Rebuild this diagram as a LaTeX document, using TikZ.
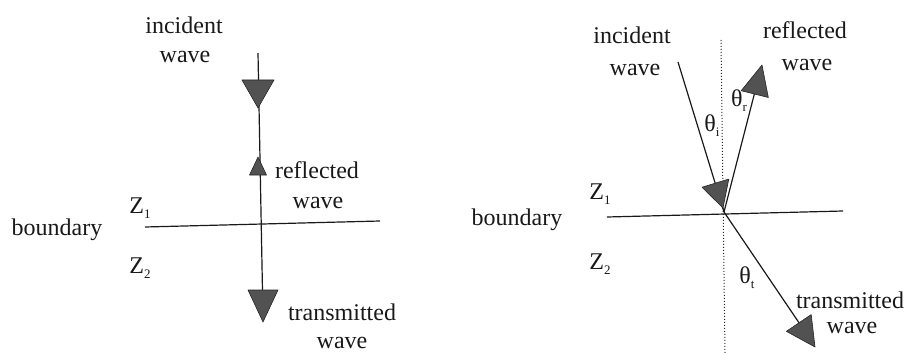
\documentclass[tikz,border=0pt]{standalone}
\usepackage{fontspec}
\setmainfont{Liberation Serif}
\begin{document}
\begin{tikzpicture}[x=1pt,y=-1pt,
  lbl/.style={inner sep=0pt,font=\fontsize{24}{28}\selectfont,text=black!90},
  wline/.style={line width=1.2pt,black!90},
  headfill/.style={fill=black!68,draw=black!85,line width=0.6pt,line join=round}]
\newcommand\arrowhd[4]{\filldraw[headfill,shift={(#1)},rotate=#2] (0,0) -- (-#3pt,#4pt) -- (-#3pt,-#4pt) -- cycle;}
\newcommand\sbs[1]{\raisebox{-0.45ex}{\fontsize{13}{13}\selectfont #1}}
\useasboundingbox (0,0) rectangle (916,353);
% ---------- left diagram ----------
\coordinate (Ltop) at (258,53);
\coordinate (Lbot) at (263,318);
\coordinate (LbL) at (145,227);
\coordinate (LbR) at (380,221);
\coordinate (Lh1) at (258,108);
\coordinate (Lh2) at (258,157);
\coordinate (Lh3) at (263,322);
\draw[wline] (Ltop) -- (Lbot);
\draw[wline] (LbL) -- (LbR);
\arrowhd{Lh1}{-90}{28}{16}
\arrowhd{Lh2}{90}{18}{8.5}
\arrowhd{Lh3}{-90}{32}{15}
\node[lbl] (Linc1) at (184,25) {incident};
\node[lbl] (Linc2) at (185,57) {wave};
\node[lbl] (Lref1) at (317,170) {reflected};
\node[lbl] (Lref2) at (318,203) {wave};
\node[lbl] (Ltra1) at (342,312) {transmitted};
\node[lbl] (Ltra2) at (342,343) {wave};
\node[lbl] (Lbnd) at (57,230) {boundary};
\node[lbl] (LZ1) at (140,208) {Z\sbs{1}};
\node[lbl] (LZ2) at (140,268) {Z\sbs{2}};
% ---------- right diagram ----------
\coordinate (O) at (724,212);
\coordinate (Ninc) at (678,62);
\coordinate (Nref) at (760,72);
\coordinate (Ntra) at (810,339);
\coordinate (DTop) at (721,40);
\coordinate (DBot) at (725,353);
\coordinate (RbL) at (607,217);
\coordinate (RbR) at (843,211);
\coordinate (Rh1) at (723,208);
\coordinate (Rh2) at (762,65);
\coordinate (Rh3) at (815,347);
\draw[black!85,line width=1pt,dotted] (DTop) -- (DBot);
\draw[wline] (RbL) -- (RbR);
\draw[wline] (Ninc) -- (O);
\draw[wline] (O) -- (Nref);
\draw[wline] (O) -- (Ntra);
\arrowhd{Rh1}{-73}{26}{14}
\arrowhd{Rh2}{76}{30}{14}
\arrowhd{Rh3}{-56}{29}{15}
\node[lbl] (Rinc1) at (632,35) {incident};
\node[lbl] (Rinc2) at (635,70) {wave};
\node[lbl] (Rref1) at (805,30) {reflected};
\node[lbl] (Rref2) at (807,65) {wave};
\node[lbl] (Rtra1) at (850,300) {transmitted};
\node[lbl] (Rtra2) at (852,328) {wave};
\node[lbl] (Rbnd) at (517,220) {boundary};
\node[lbl] (RZ1) at (600,194) {Z\sbs{1}};
\node[lbl] (RZ2) at (600,264) {Z\sbs{2}};
\node[lbl] (Rti) at (712,126) {θ\sbs{i}};
\node[lbl] (Rtr) at (739,101) {θ\sbs{r}};
\node[lbl] (Rtt) at (747,278) {θ\sbs{t}};
\end{tikzpicture}
\end{document}
